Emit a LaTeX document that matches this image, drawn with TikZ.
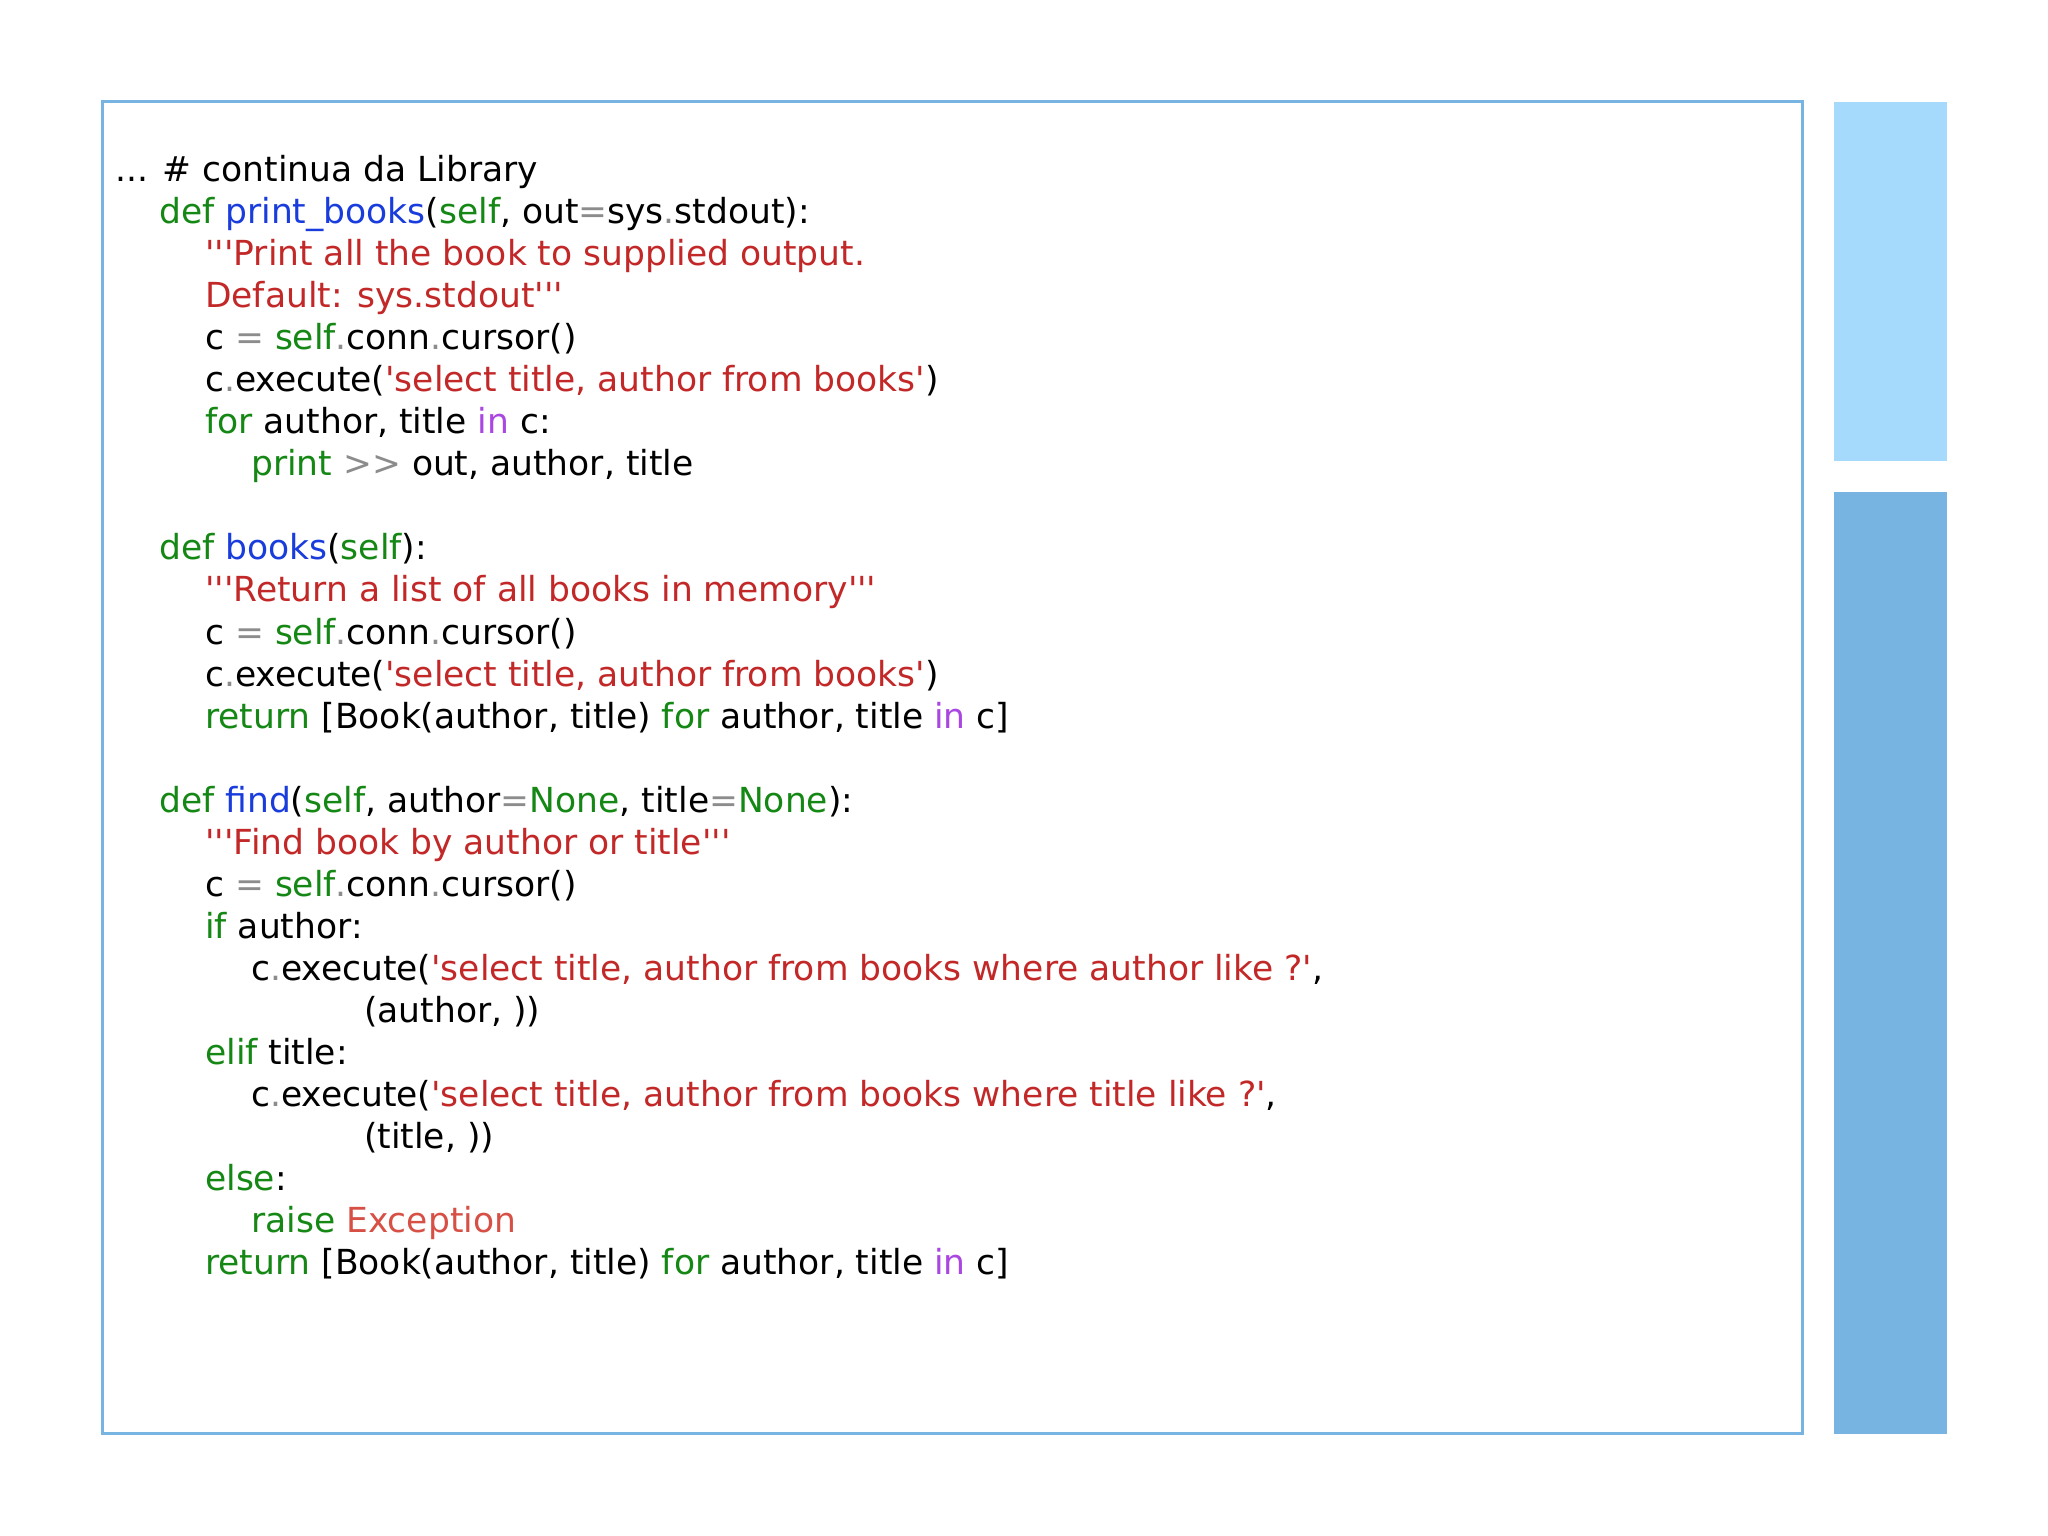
\documentclass[tikz,border=0pt]{standalone}
\usepackage{fontspec}
\setmainfont{DejaVu Sans}[Ligatures=TeXOff]
\definecolor{kg}{RGB}{20,135,20}
\definecolor{fb}{RGB}{25,60,220}
\definecolor{sr}{RGB}{195,40,40}
\definecolor{op}{RGB}{140,140,140}
\definecolor{pu}{RGB}{170,70,225}
\definecolor{ex}{RGB}{215,80,70}
\definecolor{fr}{RGB}{120,180,225}
\definecolor{lb}{RGB}{165,218,252}
\newcommand\Kw[1]{\textcolor{kg}{#1}}
\newcommand\Fn[1]{\textcolor{fb}{#1}}
\newcommand\Str[1]{\textcolor{sr}{#1}}
\newcommand\Op[1]{\textcolor{op}{#1}}
\newcommand\Pu[1]{\textcolor{pu}{#1}}
\begin{document}
\begin{tikzpicture}[x=1pt,y=1pt,
  ln/.style={anchor=base west,inner sep=0pt,font=\fontsize{34.5}{40}\selectfont}]
\useasboundingbox (0,0) rectangle (2048,1536);
\fill[white] (0,0) rectangle (2048,1536);
\draw[fr,line width=3pt] (102,102) rectangle (1802,1434);
\fill[lb] (1834,1075) rectangle (1947,1434);
\fill[fr] (1834,102) rectangle (1947,1044);
\def\L#1#2#3{\node[ln] (l#1) at (#2,{1354.5-42.05*#1}) {#3};}
\L{0}{115}{... \# continua da Library}
\L{1}{159}{\Kw{def} \Fn{print\_books}(\Kw{self}, out\Op{=}sys\Op{.}stdout):}
\L{2}{205}{\Str{'''Print all the book to supplied output.}}
\L{3}{205}{\Str{Default: sys.stdout'''}}
\L{4}{205}{c \Op{=} \Kw{self}\Op{.}conn\Op{.}cursor()}
\L{5}{205}{c\Op{.}execute(\Str{'select title, author from books'})}
\L{6}{205}{\Kw{for} author, title \Pu{in} c:}
\L{7}{251}{\Kw{print} \Op{>>} out, author, title}
\L{9}{159}{\Kw{def} \Fn{books}(\Kw{self}):}
\L{10}{205}{\Str{'''Return a list of all books in memory'''}}
\L{11}{205}{c \Op{=} \Kw{self}\Op{.}conn\Op{.}cursor()}
\L{12}{205}{c\Op{.}execute(\Str{'select title, author from books'})}
\L{13}{205}{\Kw{return} [Book(author, title) \Kw{for} author, title \Pu{in} c]}
\L{15}{159}{\Kw{def} \Fn{find}(\Kw{self}, author\Op{=}\Kw{None}, title\Op{=}\Kw{None}):}
\L{16}{205}{\Str{'''Find book by author or title'''}}
\L{17}{205}{c \Op{=} \Kw{self}\Op{.}conn\Op{.}cursor()}
\L{18}{205}{\Kw{if} author:}
\L{19}{251}{c\Op{.}execute(\Str{'select title, author from books where author like ?'},}
\L{20}{364}{(author, ))}
\L{21}{205}{\Kw{elif} title:}
\L{22}{251}{c\Op{.}execute(\Str{'select title, author from books where title like ?'},}
\L{23}{364}{(title, ))}
\L{24}{205}{\Kw{else}:}
\L{25}{251}{\Kw{raise} \textcolor{ex}{Exception}}
\L{26}{205}{\Kw{return} [Book(author, title) \Kw{for} author, title \Pu{in} c]}
\end{tikzpicture}
\end{document}
